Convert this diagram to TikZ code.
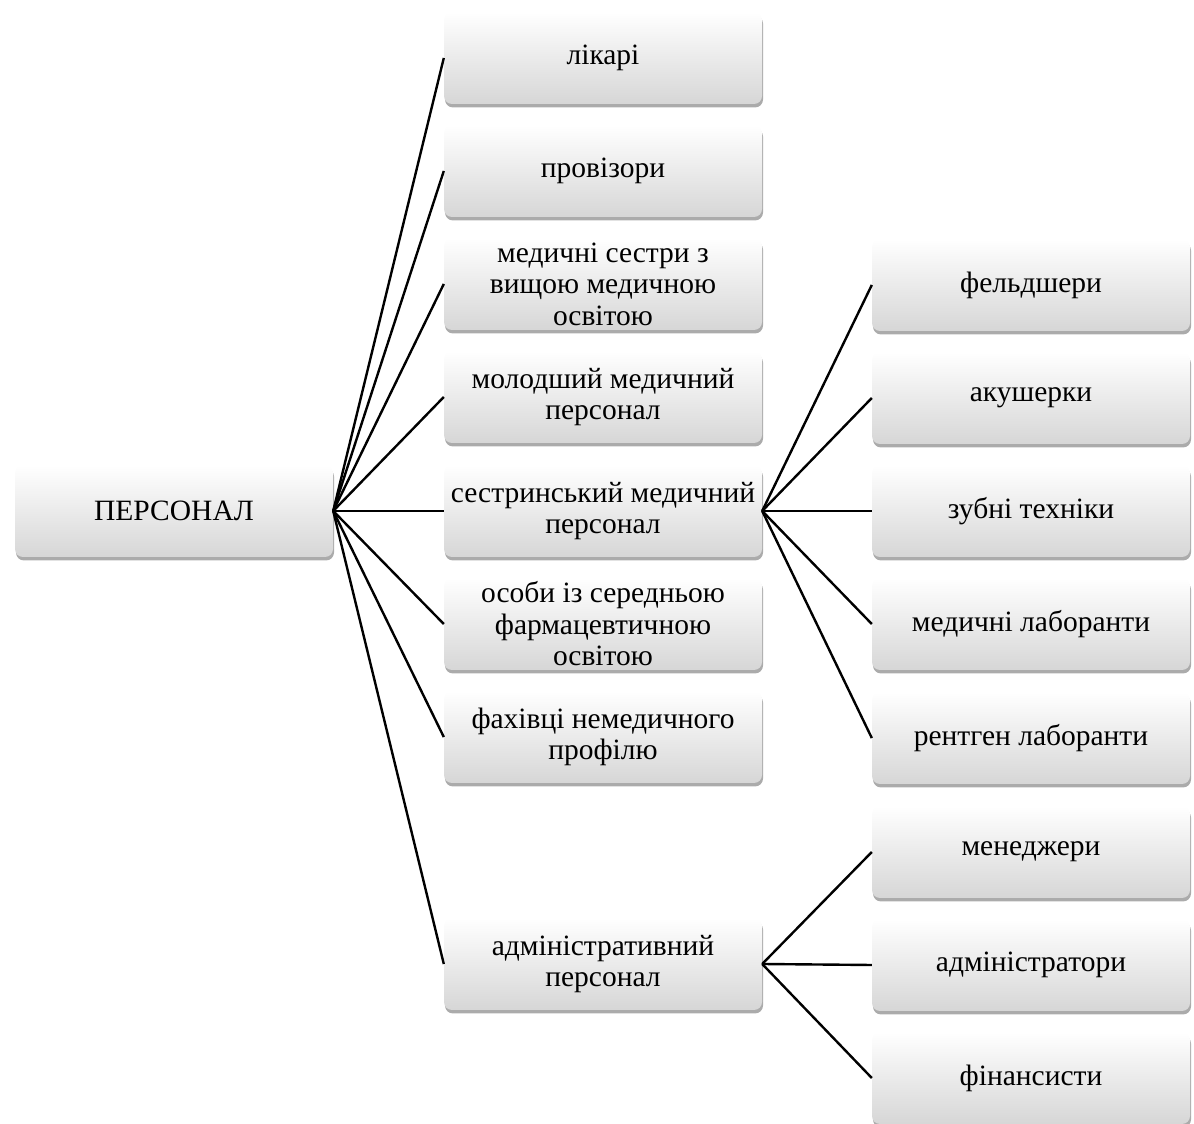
\documentclass[tikz,border=0pt]{standalone}
\usepackage{fontspec}
\setmainfont{Liberation Serif}
\newfontfamily\boxfont{Liberation Serif}
\usetikzlibrary{shadows}
\begin{document}
\begin{tikzpicture}[x=1pt,y=1pt,
  box/.style={rounded corners=8pt, minimum width=318pt, minimum height=92pt,
    top color=white, middle color=white!96!black, bottom color=black!16, draw=none, align=center,
    font=\boxfont\fontsize{29.5}{31.5}\selectfont, inner sep=2pt, text=black,
    drop shadow={shadow xshift=1pt, shadow yshift=-3.5pt, fill=black!60, opacity=0.55}},
  link/.style={line width=2.4pt, black}]
\useasboundingbox (0,0) rectangle (1194,1124);
% root
\node[box] (root) at (174,613) {ПЕРСОНАЛ};
% middle column (x center 603)
\node[box] (m1) at (603,1066) {лікарі};
\node[box] (m2) at (603,953) {провізори};
\node[box] (m3) at (603,840) {медичні сестри з\\вищою медичною\\освітою};
\node[box] (m4) at (603,727) {молодший медичний\\персонал};
\node[box] (m5) at (603,613) {сестринський медичний\\персонал};
\node[box] (m6) at (603,500) {особи із середньою\\фармацевтичною\\освітою};
\node[box] (m7) at (603,387) {фахівці немедичного\\профілю};
\node[box] (m8) at (603,160) {адміністративний\\персонал};
% right column (x center 1031)
\node[box] (r1) at (1031,839) {фельдшери};
\node[box] (r2) at (1031,726) {акушерки};
\node[box] (r3) at (1031,613) {зубні техніки};
\node[box] (r4) at (1031,500) {медичні лаборанти};
\node[box] (r5) at (1031,386) {рентген лаборанти};
\node[box] (r6) at (1031,272) {менеджери};
\node[box] (r7) at (1031,159) {адміністратори};
\node[box] (r8) at (1031,46) {фінансисти};
% connectors
\foreach \t in {m1,m2,m3,m4,m5,m6,m7,m8}
  \draw[link] (root.east) -- (\t.west);
\foreach \t in {r1,r2,r3,r4,r5}
  \draw[link] (m5.east) -- (\t.west);
\foreach \t in {r6,r7,r8}
  \draw[link] (m8.east) -- (\t.west);
\end{tikzpicture}
\end{document}
